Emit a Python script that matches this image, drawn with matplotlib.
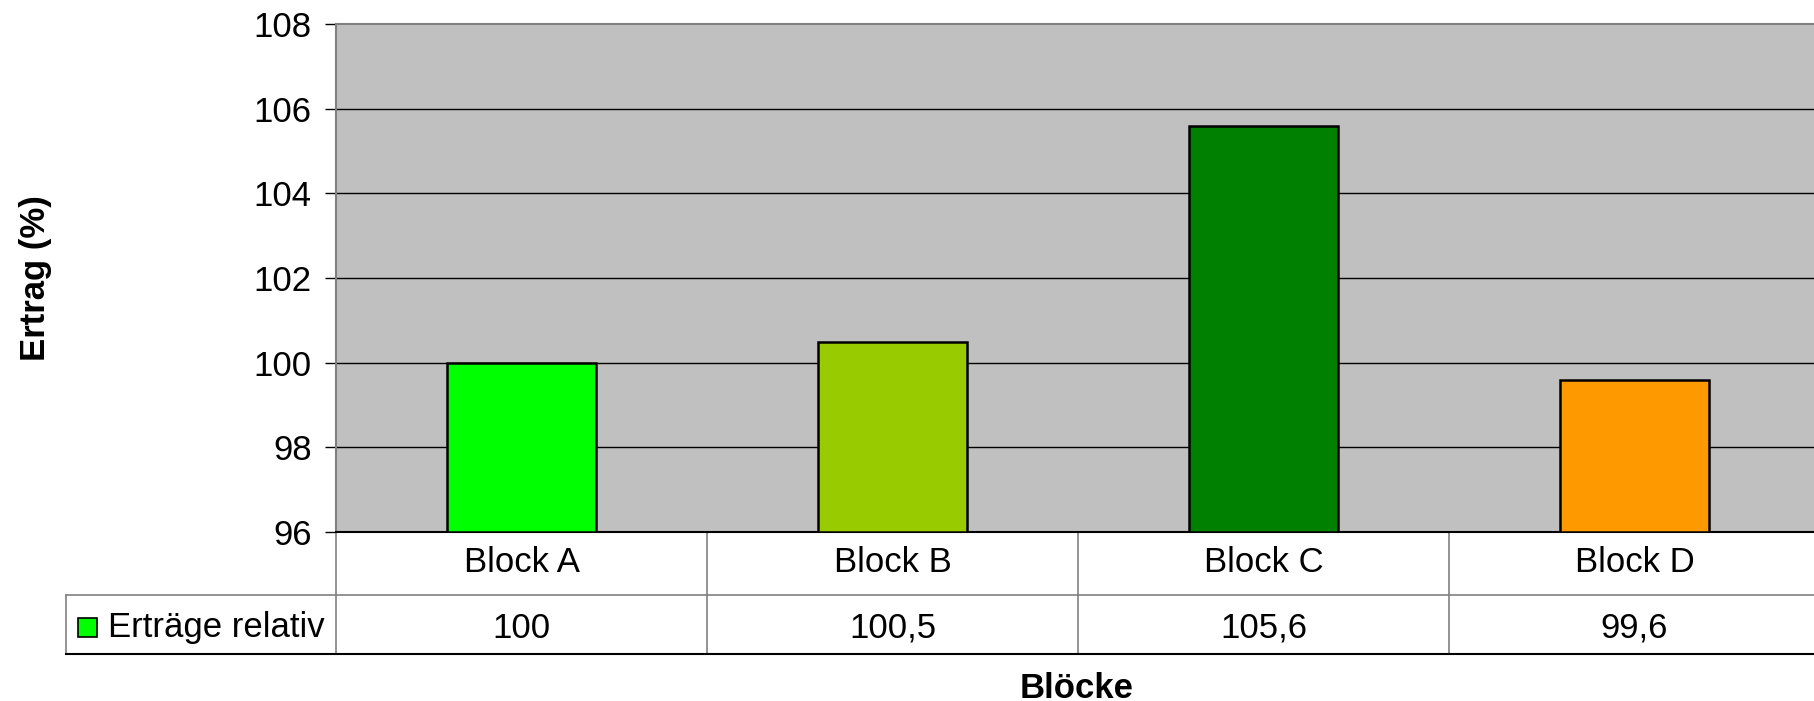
import matplotlib
matplotlib.use("Agg")
import matplotlib.pyplot as plt
from matplotlib.patches import Rectangle
from matplotlib.lines import Line2D

categories = ["Block A", "Block B", "Block C", "Block D"]
values = [100.0, 100.5, 105.6, 99.6]
colors = ["#00FF00", "#99CC00", "#008000", "#FF9900"]
series_name = "Erträge relativ"
y_ticks = [96, 98, 100, 102, 104, 106, 108]
x_title = "Blöcke"
y_title = "Ertrag (%)"

plt.rcParams['font.family'] = ['Liberation Sans', 'DejaVu Sans']
FS = 25

W, H, DPI = 1814, 701, 100
fig = plt.figure(figsize=(W / DPI, H / DPI), dpi=DPI)
px_left, px_right, px_top, px_bottom = 336, 1820, 24, 532
ax = fig.add_axes([px_left / W, 1 - px_bottom / H, (px_right - px_left) / W, (px_bottom - px_top) / H])
ax.set_facecolor("#C0C0C0")

x = list(range(len(categories)))
ax.bar(x, [v - 96 for v in values], bottom=96, width=0.4, color=colors,
       edgecolor="black", linewidth=1.8, zorder=3)

ax.set_xlim(-0.5, len(categories) - 0.5)
ax.set_ylim(96, 108)
ax.set_yticks(y_ticks)
ax.set_yticklabels([str(t) for t in y_ticks], fontsize=FS)
ax.tick_params(axis='y', length=8, width=1, color='black', pad=9.5)
ax.set_xticks([])
for t in y_ticks[1:-1]:
    ax.axhline(t, color='black', linewidth=1.0, zorder=1)

ax.spines['right'].set_visible(False)
ax.spines['top'].set_color('#808080')
ax.spines['top'].set_linewidth(1.5)
ax.spines['left'].set_color('#808080')
ax.spines['left'].set_linewidth(1.5)
ax.spines['bottom'].set_color('black')
ax.spines['bottom'].set_linewidth(1.5)

# data table below the axes (axes-fraction y, data x)
ph = px_bottom - px_top
row1_bot = -(595 - px_bottom) / ph
row2_bot = -(654 - px_bottom) / ph
pw = px_right - px_left
cat_w = pw / len(categories)
leg_left = -0.5 + (66 - px_left) / cat_w

btr = ax.get_xaxis_transform()
def line(xs, ys, color='#808080', lw=1.2):
    ax.add_line(Line2D(xs, ys, transform=btr, color=color, linewidth=lw, clip_on=False))

for i in range(len(categories) + 1):
    line([i - 0.5, i - 0.5], [0, row2_bot])
line([leg_left, leg_left], [row1_bot, row2_bot])
line([leg_left, len(categories) - 0.5], [row1_bot, row1_bot])
line([leg_left, len(categories) - 0.5], [row2_bot, row2_bot], color='black', lw=1.5)

def fmt(v):
    return ('%g' % v).replace('.', ',')

cat_y = -(563 - px_bottom) / ph
val_y = -(628 - px_bottom) / ph
for i, (c, v) in enumerate(zip(categories, values)):
    ax.text(i, cat_y, c, transform=btr, ha='center', va='center', fontsize=FS)
    ax.text(i, val_y, fmt(v), transform=btr, ha='center', va='center', fontsize=FS)

# legend key in the table
ymid_px = 627
sq = 19
fig.patches.append(Rectangle((78 / W, 1 - (ymid_px + sq / 2) / H), sq / W, sq / H,
                             transform=fig.transFigure, facecolor=colors[0],
                             edgecolor='black', linewidth=1.2))
fig.text(108 / W, 1 - 628 / H, series_name, ha='left', va='center', fontsize=FS)

fig.text(35 / W, 1 - 278 / H, y_title, rotation=90, ha='center', va='center',
         fontsize=FS, fontweight='bold')
fig.text(1077 / W, 1 - 688 / H, x_title, ha='center', va='center',
         fontsize=FS, fontweight='bold')

fig.savefig("out.png", dpi=DPI, facecolor='white')
